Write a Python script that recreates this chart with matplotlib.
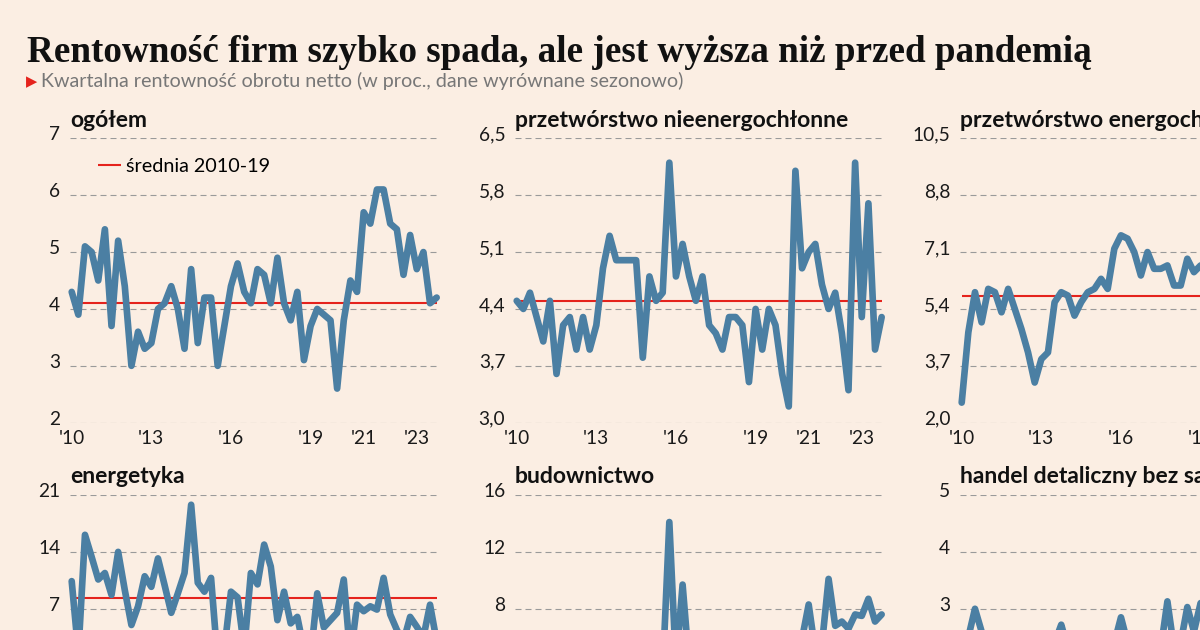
import numpy as np
import matplotlib.pyplot as plt
from matplotlib.transforms import ScaledTranslation

# quarterly data, 2010Q1 - 2023Q4
quarters = 2010 + np.arange(56) / 4

ogolem = [4.3, 3.9, 5.1, 5.0, 4.5, 5.4, 3.7, 5.2, 4.4, 3.0,
          3.6, 3.3, 3.4, 4.0, 4.1, 4.4, 4.0, 3.3, 4.7, 3.4,
          4.2, 4.2, 3.0, 3.7, 4.4, 4.8, 4.3, 4.1, 4.7, 4.6,
          4.1, 4.9, 4.1, 3.8, 4.3, 3.1, 3.7, 4.0, 3.9, 3.8,
          2.6, 3.8, 4.5, 4.3, 5.7, 5.5, 6.1, 6.1, 5.5, 5.4,
          4.6, 5.3, 4.7, 5.0, 4.1, 4.2]

nieenergo = [4.5, 4.4, 4.6, 4.3, 4.0, 4.5, 3.6, 4.2, 4.3, 3.9,
             4.3, 3.9, 4.2, 4.9, 5.3, 5.0, 5.0, 5.0, 5.0, 3.8,
             4.8, 4.5, 4.6, 6.2, 4.8, 5.2, 4.8, 4.5, 4.8, 4.2,
             4.1, 3.9, 4.3, 4.3, 4.2, 3.5, 4.4, 3.9, 4.4, 4.2,
             3.6, 3.2, 6.1, 4.9, 5.1, 5.2, 4.7, 4.4, 4.6, 4.1,
             3.4, 6.2, 4.3, 5.7, 3.9, 4.3]

# only the visible part of the third column
energo = [2.6, 4.7, 5.9, 5.0, 6.0, 5.9, 5.3, 6.0, 5.4, 4.8,
          4.1, 3.2, 3.9, 4.1, 5.6, 5.9, 5.8, 5.2, 5.6, 5.9,
          6.0, 6.3, 6.0, 7.2, 7.6, 7.5, 7.1, 6.4, 7.1, 6.6,
          6.6, 6.7, 6.1, 6.1, 6.9, 6.5, 6.7]

energetyka = [10.4, 1.5, 16.1, 13.4, 10.6, 11.4, 8.7, 14.0, 9.3, 5.0,
              7.3, 11.0, 9.7, 13.2, 9.9, 6.5, 8.9, 11.4, 19.8, 10.2,
              9.1, 10.8, 0.5, 2.0, 9.1, 8.4, 2.0, 11.4, 10.0, 14.9,
              12.2, 5.6, 9.1, 5.2, 6.0, 2.0, 1.0, 8.9, 4.7, 5.6,
              6.5, 10.6, 1.0, 7.5, 6.7, 7.3, 6.9, 10.8, 6.3, 4.4,
              3.0, 6.0, 4.8, 3.5, 7.5, 3.0]

budownictwo = [5.0, 4.6, 5.2, 4.8, 4.1, 3.9, 3.0, 2.6, 3.5, 3.3,
               3.8, 4.0, 4.2, 4.6, 4.4, 4.9, 5.0, 5.3, 5.1, 5.4,
               4.8, 5.5, 3.5, 14.1, 4.0, 9.7, 4.0, 5.0, 4.8, 5.2,
               5.4, 5.0, 4.9, 5.3, 5.1, 4.7, 5.0, 4.6, 5.2, 4.1,
               5.3, 5.8, 5.5, 5.9, 8.3, 5.0, 5.5, 10.1, 6.8, 7.1,
               6.6, 7.6, 7.5, 8.7, 7.1, 7.6]

handel = [2.4, 2.5, 3.0, 2.6, 2.4, 2.3, 2.2, 2.3, 2.2, 2.1,
          2.2, 2.3, 2.2, 2.3, 2.4, 2.72, 2.3, 2.2, 2.3, 2.2,
          2.1, 2.2, 2.3, 2.4, 2.85, 2.4, 2.3, 2.2, 2.3, 2.4,
          2.3, 3.13, 2.3, 2.4, 3.03, 2.6, 3.1]

titles = ['ogółem', 'przetwórstwo nieenergochłonne', 'przetwórstwo energochłonne',
          'energetyka', 'budownictwo', 'handel detaliczny bez samochodów']
series = [ogolem, nieenergo, energo, energetyka, budownictwo, handel]
means = [4.1, 4.5, 5.8, 8.3, 4.6, 2.3]
yticks = [[2, 3, 4, 5, 6, 7],
          [3.0, 3.7, 4.4, 5.1, 5.8, 6.5],
          [2.0, 3.7, 5.4, 7.1, 8.8, 10.5],
          [-14, -7, 0, 7, 14, 21],
          [-4, 0, 4, 8, 12, 16],
          [0, 1, 2, 3, 4, 5]]
decimals = [0, 1, 1, 0, 0, 0]
xticks = [2010, 2013, 2016, 2019, 2021, 2023]
xlabels = ["'10", "'13", "'16", "'19", "'21", "'23"]

BG = '#fbeee3'
BLUE = '#4b7fa3'
RED = '#e5231d'

plt.rcParams['font.family'] = ['Lato', 'DejaVu Sans']

fig = plt.figure(figsize=(12, 6.3), dpi=100, facecolor=BG)

lefts = [70, 515, 960]
tops = [138.3, 495]
W, H = 368, 284.4

for i, (vals, title) in enumerate(zip(series, titles)):
    row, col = divmod(i, 3)
    ax = fig.add_axes([lefts[col] / 1200, 1 - (tops[row] + H) / 630, W / 1200, H / 630])
    ax.set_facecolor(BG)
    for s in ax.spines.values():
        s.set_visible(False)

    x = quarters[:len(vals)]
    ax.plot(x, vals, color=BLUE, lw=4.8, solid_joinstyle='round',
            solid_capstyle='round', zorder=3, clip_on=False)
    ax.hlines(means[i], quarters[0], quarters[-1], color=RED, lw=1.5, zorder=2,
              label='średnia 2010-19')

    t = yticks[i]
    ax.set_ylim(t[0], t[-1])
    ax.set_yticks(t)
    ax.set_yticklabels([f'{v:.{decimals[i]}f}'.replace('.', ',') for v in t])
    ax.set_xlim(2009.936, 2023.80)
    ax.set_xticks(xticks)
    ax.set_xticklabels(xlabels)
    ax.tick_params(length=0, labelsize=13.8, colors='#1a1a1a')
    ax.tick_params(axis='y', pad=7)
    ax.tick_params(axis='x', pad=5)
    for lab in ax.get_yticklabels():
        lab.set_transform(lab.get_transform() + ScaledTranslation(0, 0.05, fig.dpi_scale_trans))

    ax.grid(axis='y', color='#9a9a9a', lw=0.8, linestyle=(0, (5.4, 3.6)), zorder=1)
    ax.grid(axis='x', visible=False)

    ax.text(0, 1, title, transform=ax.transAxes + ScaledTranslation(0, 0.116, fig.dpi_scale_trans),
            fontsize=16.5, fontweight='bold', color='#111111', ha='left', va='baseline')

    if i == 0:
        ax.legend(loc='upper left', bbox_to_anchor=(0.076, 0.932), frameon=False,
                  fontsize=14.2, handlelength=1.15, handletextpad=0.25,
                  borderpad=0, borderaxespad=0)

fig.text(27 / 1200, 1 - 62 / 630, 'Rentowność firm szybko spada, ale jest wyższa niż przed pandemią',
         family='Liberation Serif', fontweight='bold', fontsize=26.7, color='#111111',
         ha='left', va='baseline')
fig.text(26 / 1200, 1 - 86 / 630, '▶', family='DejaVu Sans', fontsize=10.5, color=RED,
         ha='left', va='baseline')
fig.text(41 / 1200, 1 - 87 / 630,
         'Kwartalna rentowność obrotu netto (w proc., dane wyrównane sezonowo)',
         fontsize=14.2, color='#777777', ha='left', va='baseline')

fig.savefig('out.png', dpi=100, facecolor=BG)
